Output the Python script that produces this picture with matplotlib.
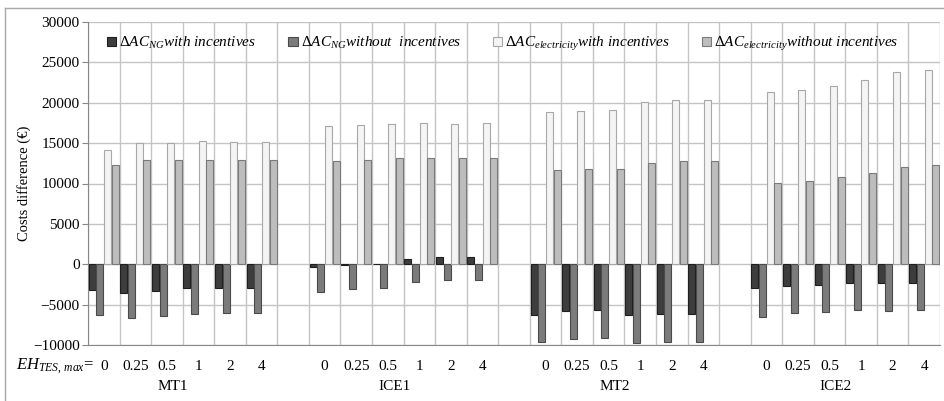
import matplotlib
matplotlib.use('Agg')
import matplotlib.pyplot as plt
from matplotlib.lines import Line2D
import numpy as np

plt.rcParams['font.family'] = ['Liberation Serif', 'DejaVu Serif']
plt.rcParams['mathtext.fontset'] = 'custom'
plt.rcParams['mathtext.rm'] = 'Liberation Serif'
plt.rcParams['mathtext.it'] = 'Liberation Serif:italic'

# data
groups = ['MT1', 'ICE1', 'MT2', 'ICE2']
eh_levels = ['0', '0.25', '0.5', '1', '2', '4']

ng_with = [-3200, -3500, -3300, -3000, -2950, -3000,
           -400, -50, 50, 700, 900, 900,
           -6300, -5850, -5700, -6300, -6100, -6150,
           -3000, -2700, -2600, -2300, -2300, -2300]
ng_without = [-6300, -6700, -6400, -6100, -6000, -6050,
              -3400, -3100, -2900, -2250, -1900, -2000,
              -9600, -9300, -9100, -9750, -9600, -9600,
              -6500, -6000, -5900, -5650, -5800, -5650]
el_with = [14200, 15000, 15050, 15250, 15150, 15200,
           17100, 17300, 17400, 17500, 17400, 17500,
           18800, 18950, 19050, 20100, 20300, 20400,
           21300, 21550, 22100, 22800, 23800, 24050]
el_without = [12250, 12900, 12900, 12950, 12950, 12950,
              12800, 12950, 13100, 13100, 13100, 13100,
              11650, 11750, 11850, 12600, 12800, 12800,
              10100, 10300, 10800, 11250, 12100, 12250]

labels = [r'$\Delta AC_{NG}$with incentives',
          r'$\Delta AC_{NG}$without  incentives',
          r'$\Delta AC_{electricity}$with incentives',
          r'$\Delta AC_{electricity}$without incentives']
series = [ng_with, ng_without, el_with, el_without]
faces = ['#3d3d3d', '#7b7b7b', '#f4f4f4', '#bdbdbd']
edges = ['#1e1e1e', '#4a4a4a', '#a8a8a8', '#7a7a7a']
offsets = [-0.365, -0.122, 0.122, 0.365]

# positions: 6 categories per group, one empty slot between groups
n = len(eh_levels)
x = np.array([g * (n + 1) + j for g in range(len(groups)) for j in range(n)])

fig = plt.figure(figsize=(9.45, 4.01), dpi=100)
ax = fig.add_axes([88 / 945, 1 - 345 / 401, 852 / 945, 323 / 401])

for vals, lab, fc, ec, off in zip(series, labels, faces, edges, offsets):
    ax.bar(x + off, vals, width=0.22, color=fc, edgecolor=ec,
           linewidth=0.8, label=lab, zorder=3)

ncat = len(groups) * (n + 1) - 1
ax.set_xlim(-0.5, ncat - 0.5)
ax.set_ylim(-10000, 30000)
ax.set_yticks(np.arange(-10000, 30001, 5000))
ax.set_xticks(x)
ax.set_xticklabels(eh_levels * len(groups))
ax.set_xticks(np.arange(-0.5, ncat, 1), minor=True)
ax.tick_params(axis='x', which='both', length=0, labelsize=11, pad=11)
ax.tick_params(axis='y', length=4, color='#888888', labelsize=11, pad=2)

ax.grid(axis='y', color='#c4c4c4', linewidth=1, zorder=0)
ax.grid(axis='x', which='minor', color='#c4c4c4', linewidth=1, zorder=0)
ax.grid(axis='x', which='major', visible=False)
for side in ['top', 'right']:
    ax.spines[side].set_visible(False)
ax.spines['left'].set_color('#888888')
ax.spines['bottom'].set_color('#888888')

ax.set_ylabel('Costs difference (€)', fontsize=10.5, labelpad=1.5)

# group names under the tick labels
for g, name in enumerate(groups):
    ax.text(g * (n + 1) + 2.2, -0.108, name, transform=ax.get_xaxis_transform(),
            ha='center', va='top', fontsize=11)

ax.text(-0.3, -0.036, r'$EH_{TES,\, max}$=', transform=ax.get_xaxis_transform(),
        ha='right', va='top', fontsize=12)

ax.legend(loc='center', bbox_to_anchor=(0.487, 0.932), ncol=4, frameon=False,
          prop={'family': 'Liberation Serif', 'style': 'italic', 'size': 11},
          handlelength=0.6, handleheight=0.6, handletextpad=0.2,
          columnspacing=2.1)

# outer frame of the chart
fig.add_artist(Line2D([5 / 945, 5 / 945], [0, 1 - 8 / 401], color='#a8a8a8', lw=1))
fig.add_artist(Line2D([5 / 945, 1], [1 - 8 / 401, 1 - 8 / 401], color='#a8a8a8', lw=1))

fig.savefig('out.png', dpi=100)
